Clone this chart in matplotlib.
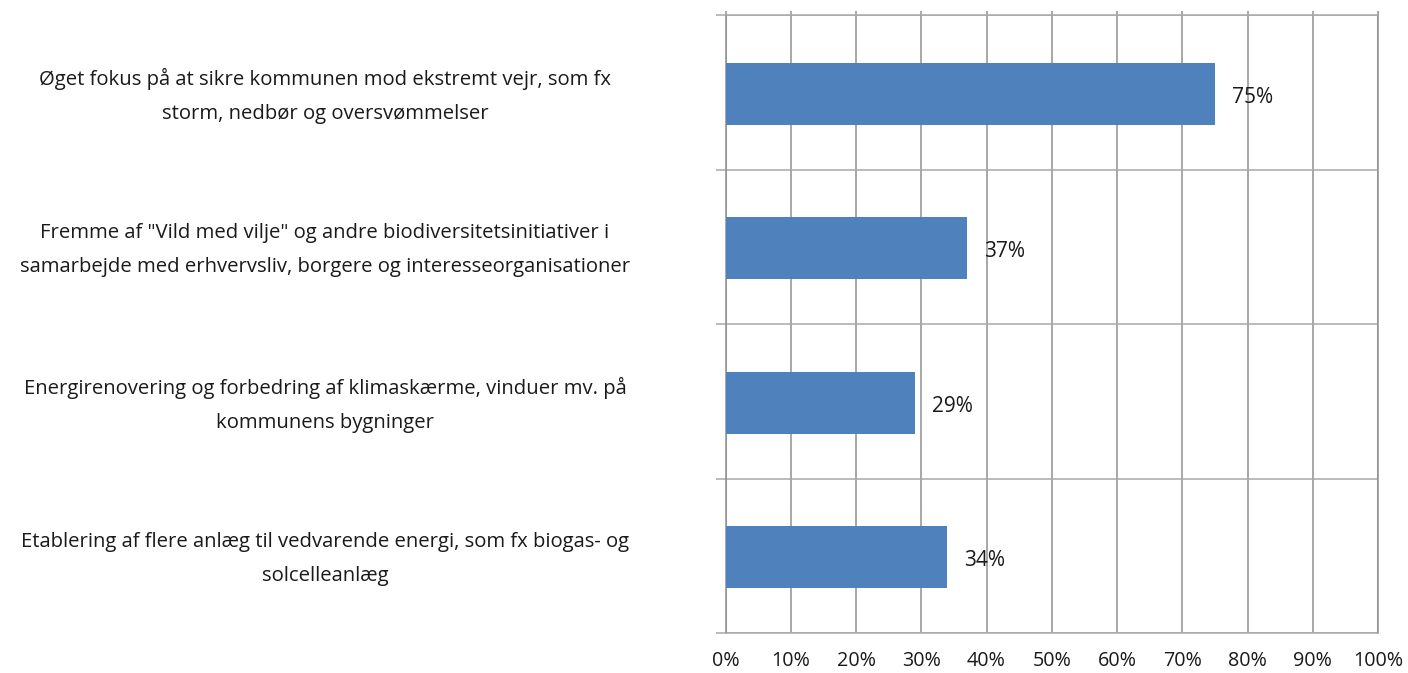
import matplotlib
matplotlib.use("Agg")
import matplotlib.pyplot as plt
from matplotlib.transforms import blended_transform_factory, ScaledTranslation

categories = [
    "Øget fokus på at sikre kommunen mod ekstremt vejr, som fx\nstorm, nedbør og oversvømmelser",
    "Fremme af \"Vild med vilje\" og andre biodiversitetsinitiativer i\nsamarbejde med erhvervsliv, borgere og interesseorganisationer",
    "Energirenovering og forbedring af klimaskærme, vinduer mv. på\nkommunens bygninger",
    "Etablering af flere anlæg til vedvarende energi, som fx biogas- og\nsolcelleanlæg",
]
values = [0.75, 0.37, 0.29, 0.34]
value_labels = ["75%", "37%", "29%", "34%"]
xticks = [i / 10 for i in range(11)]
xtick_labels = [f"{i*10}%" for i in range(11)]

plt.rcParams['font.family'] = ['Open Sans', 'DejaVu Sans']

W, H = 1408, 673
fig = plt.figure(figsize=(W / 100, H / 100), dpi=100)
ax = fig.add_axes([725.5 / W, 1 - 633 / H, (1378 - 725.5) / W, (633 - 15) / H])

n = len(categories)
ypos = [n - 0.5 - i for i in range(n)]
bar_color = "#4F81BD"
bar_shift = ScaledTranslation(0, -1.5 / 100, fig.dpi_scale_trans)
bars = ax.barh(ypos, values, height=0.4, color=bar_color, zorder=3)
for b in bars:
    b.set_transform(ax.transData + bar_shift)

ax.set_xlim(0, 1)
ax.set_ylim(0, n)

vcol = "#8f8f8f"
hcol = "#a8a8a8"
tcol = "#1a1a1a"

ax.set_xticks(xticks)
ax.set_xticklabels(xtick_labels, fontsize=14.2, color=tcol)
ax.tick_params(axis='x', which='major', bottom=False, top=True, length=3,
               color=vcol, width=1.1, pad=10)
ax.set_yticks(range(n + 1))
ax.set_yticklabels([])
ax.tick_params(axis='y', length=7, color=hcol, width=1.1)

ax.grid(axis='x', color=vcol, linewidth=1.1, zorder=0)
ax.grid(axis='y', color=hcol, linewidth=1.1, zorder=0)
ax.set_axisbelow(True)
for side in ['left', 'right']:
    ax.spines[side].set_color(vcol)
    ax.spines[side].set_linewidth(1.1)
for side in ['top', 'bottom']:
    ax.spines[side].set_color(hcol)
    ax.spines[side].set_linewidth(1.1)

for y, v, lab in zip(ypos, values, value_labels):
    ax.annotate(lab, xy=(v, y), xytext=(17, -5), textcoords='offset pixels',
                ha='left', va='center', fontsize=15, color=tcol, zorder=4)

trans = blended_transform_factory(fig.transFigure, ax.transData)
label_shift = ScaledTranslation(0, -3.5 / 100, fig.dpi_scale_trans)
for y, cat in zip(ypos, categories):
    ax.text(325 / W, y, cat, transform=trans + label_shift, ha='center',
            va='center', fontsize=14.6, color=tcol, linespacing=1.95,
            clip_on=False)

fig.savefig("out.png", dpi=100)
